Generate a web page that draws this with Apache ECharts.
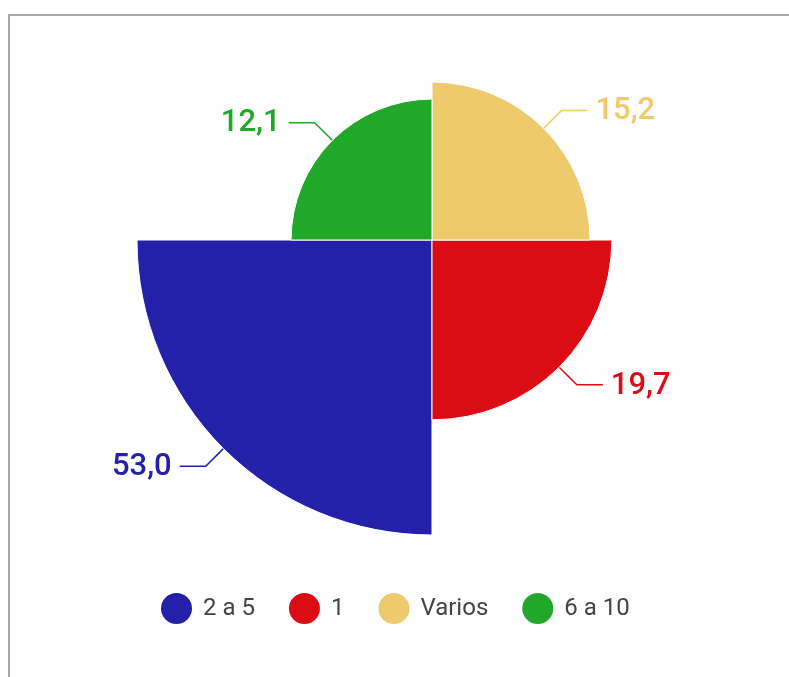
<!DOCTYPE html>
<html>
<head>
<meta charset="utf-8">
<script src="https://cdn.jsdelivr.net/npm/echarts@6/dist/echarts.min.js"></script>
<style>
  html, body { margin: 0; padding: 0; background: #fff; }
  #chart { width: 789px; height: 677px; }
</style>
</head>
<body>
<div id="chart"></div>
<script>
const categories = ['2 a 5', '1', 'Varios', '6 a 10']
const values = [53.0, 19.7, 15.2, 12.1]
const colors = ['#2420a9', '#dc0c14', '#efca6c', '#22a828']

const LINE1 = 25
const LINE2 = 26
const TEXT_GAP = 8

// sector area proportional to the value -> rose radius follows sqrt(value)
const pieData = categories.map((name, i) => ({
  name: name,
  value: Math.sqrt(values[i]),
  itemStyle: { color: colors[i] },
  label: { color: colors[i] },
  labelLine: { lineStyle: { color: colors[i] } }
}))

// keep each label close to its own petal instead of the outer circle
function petalLabel(params) {
  const pts = params.labelLinePoints
  if (!pts) return {}
  const p1 = pts[0]
  const dx = pts[1][0] - p1[0]
  const dy = pts[1][1] - p1[1]
  const len = Math.sqrt(dx * dx + dy * dy) || 1
  const side = dx < 0 ? -1 : 1
  const p2 = [p1[0] + dx / len * LINE1, p1[1] + dy / len * LINE1]
  const p3 = [p2[0] + side * LINE2, p2[1]]
  return {
    x: p3[0] + side * TEXT_GAP,
    y: p3[1] + 1,
    align: side < 0 ? 'right' : 'left',
    verticalAlign: 'middle',
    labelLinePoints: [p1, p2, p3]
  }
}

const chart = echarts.init(document.getElementById('chart'))
chart.setOption({
  animation: false,
  textStyle: { fontFamily: 'Roboto' },
  graphic: [
    { type: 'line', shape: { x1: 8, y1: 15, x2: 789, y2: 15 }, style: { stroke: '#a8a8a8', lineWidth: 2 } },
    { type: 'line', shape: { x1: 9, y1: 14, x2: 9, y2: 677 }, style: { stroke: '#a8a8a8', lineWidth: 2 } }
  ],
  legend: {
    left: 154,
    top: 586,
    icon: 'circle',
    itemWidth: 33,
    itemHeight: 33,
    itemGap: 32,
    textStyle: { fontSize: 24, color: '#444', fontFamily: 'Roboto', padding: [0, 1, 0, 5] },
    data: categories
  },
  series: [{
    type: 'pie',
    roseType: 'area',
    center: [432, 240],
    radius: [0, 295],
    startAngle: 180,
    clockwise: false,
    avoidLabelOverlap: false,
    itemStyle: { borderColor: '#fff', borderWidth: 1 },
    label: {
      fontSize: 31,
      fontWeight: 500,
      fontFamily: 'Roboto',
      formatter: p => values[p.dataIndex].toFixed(1).replace('.', ',')
    },
    labelLine: { length: LINE1, length2: LINE2, lineStyle: { width: 1.5 } },
    labelLayout: petalLabel,
    data: pieData
  }]
})
</script>
</body>
</html>
